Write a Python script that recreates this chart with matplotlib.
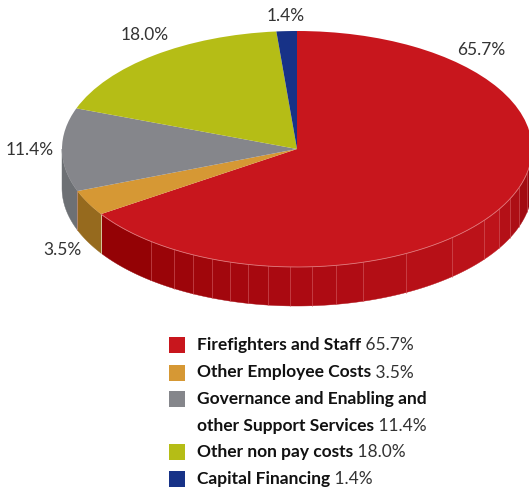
import numpy as np
import matplotlib
matplotlib.use("Agg")
import matplotlib.pyplot as plt

shares = [65.7, 3.5, 11.4, 18.0, 1.4]
pct_labels = ["65.7%", "3.5%", "11.4%", "18.0%", "1.4%"]
top_colors = ["#C8161D", "#D69834", "#85868B", "#B5BD16", "#173287"]
names_bold = ["Firefighters and Staff", "Other Employee Costs", "Governance and Enabling and",
              "other Support Services", "Other non pay costs", "Capital Financing"]
names_value = ["65.7%", "3.5%", "", "11.4%", "18.0%", "1.4%"]
swatch_colors = ["#C8161D", "#D69834", "#85868B", None, "#B5BD16", "#173287"]
# x pixel positions of the facets on the red rim
facet_px = [151, 174, 193, 212, 230, 248, 268, 290, 312, 336, 363, 406, 452, 484, 499, 510, 519, 527]

W, H = 529, 488
CX, CY, RX, RY, DEPTH = 297.0, 149.0, 235.0, 118.0, 39.0
plt.rcParams["font.family"] = ["Lato", "DejaVu Sans"]
TXT = "#333333"

fig = plt.figure(figsize=(W / 100, H / 100), dpi=100)
ax = fig.add_axes([0, 0, 1, 1])
wedges, _ = ax.pie(shares, colors=top_colors, startangle=90, counterclock=False, radius=1.0,
                   center=(0, 0), wedgeprops=dict(linewidth=0), normalize=True)
for w in wedges:
    w.set_zorder(5)
ax.set_aspect("auto")
ax.set_xlim(-CX / RX, (W - CX) / RX)
ax.set_ylim((CY - H) / RY, CY / RY)
ax.axis("off")


def X(px):
    return (px - CX) / RX


def Y(py):
    return (CY - py) / RY


d = DEPTH / RY
ends = np.cumsum(shares) / np.sum(shares) * 360.0
starts = np.r_[0.0, ends[:-1]]


def wall(a0, a1, col):
    t = np.radians(np.linspace(a0, a1, 40))
    x, y = np.sin(t), np.cos(t)
    ax.fill(np.r_[x, x[::-1]], np.r_[y, y[::-1] - d], color=col, lw=0.3, zorder=2)


# rim of red slice: colour shifts from dark on the left to bright on the right
dark = np.array([0x8F, 0x00, 0x02]) / 255
mid = np.array([0xAC, 0x0A, 0x12]) / 255
bright = np.array([0xBE, 0x13, 0x1A]) / 255
far = np.array([0x8C, 0x05, 0x0C]) / 255
fx = X(np.array(facet_px, dtype=float))
facet_t = np.degrees(np.arctan2(fx, -np.sqrt(np.clip(1 - fx ** 2, 0, 1)))) % 360
edges = np.sort(np.r_[90.0, facet_t, ends[0]])
for a0, a1 in zip(edges[:-1], edges[1:]):
    m = (a0 + a1) / 2
    if m > 175:
        f = np.clip((m - 180) / (ends[0] - 180), 0, 1)
        c = mid * (1 - f) + dark * f
    elif m > 125:
        f = (m - 125) / 55
        c = bright * (1 - f) + mid * f
    else:
        f = (125 - m) / 35
        c = bright * (1 - f) + far * f
    wall(a0, a1, c)
for a in facet_t:
    t = np.radians(a)
    ax.plot([np.sin(t)] * 2, [np.cos(t), np.cos(t) - d], color="#D9696E", lw=0.6, alpha=0.6, zorder=3)

wall(starts[1], ends[1], "#966A1E")
wall(starts[2], 270.0, "#6D7074")
t = np.radians(starts[1])
ax.plot([np.sin(t)] * 2, [np.cos(t), np.cos(t) - d], color="#D8C9A0", lw=0.7, zorder=3)
t = np.radians(ends[1])
ax.plot([np.sin(t)] * 2, [np.cos(t), np.cos(t) - d], color="#B98A70", lw=0.6, zorder=3)

# pale rim highlight along the front of the top face
t = np.radians(np.linspace(90, ends[0], 200))
ax.plot(np.sin(t), np.cos(t), color="#E0777A", lw=0.6, zorder=6)

# slice labels
label_px = [(481, 50), (62, 250), (30, 150), (145, 35), (286, 16)]
for s, (px, py) in zip(pct_labels, label_px):
    ax.text(X(px), Y(py), s, fontsize=12.5, color=TXT, ha="center", va="center", zorder=7)

# legend
row_y = [345, 372.5, 399, 425.5, 452, 479]
for nm, val, col, py in zip(names_bold, names_value, swatch_colors, row_y):
    if col is not None:
        ax.fill([X(169), X(185), X(185), X(169)], [Y(py - 8), Y(py - 8), Y(py + 8), Y(py + 8)],
                color=col, lw=0, zorder=7)
    ann = ax.annotate(nm, (X(197), Y(py)), fontsize=12.5, fontweight="bold", color="#111111",
                      va="center", ha="left", zorder=7)
    if val:
        ax.annotate(" " + val, xy=(1, 0.5), xycoords=ann, fontsize=12.5, color=TXT,
                    va="center", ha="left", zorder=7)

fig.savefig("out.png", dpi=100, facecolor="white")
